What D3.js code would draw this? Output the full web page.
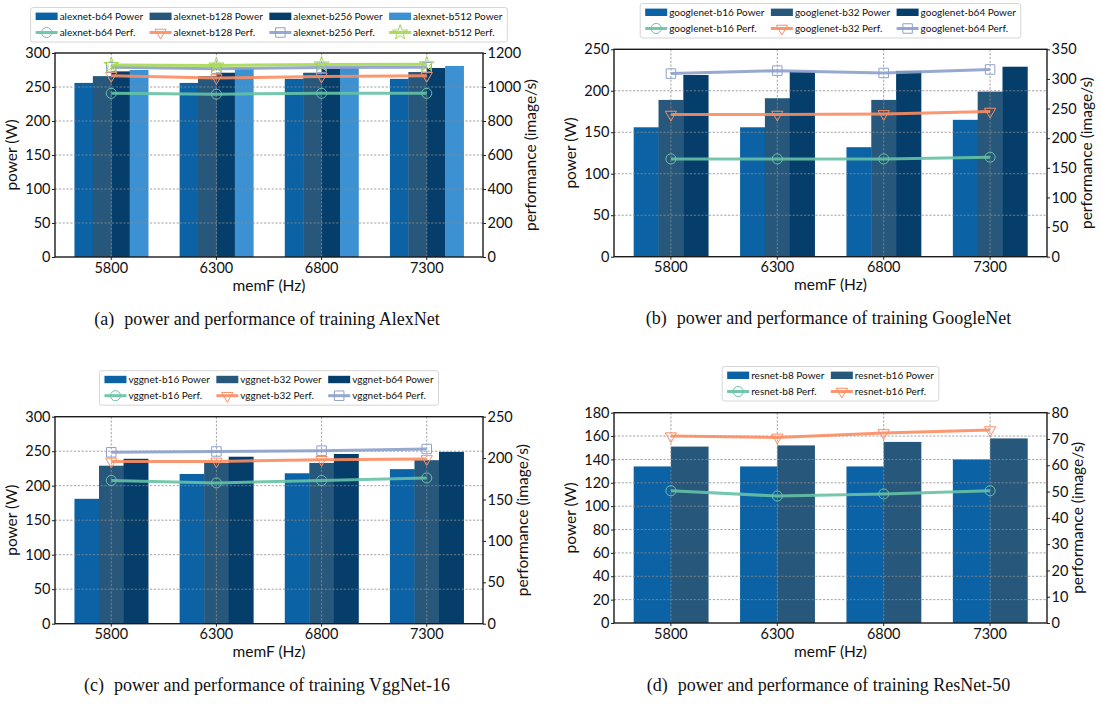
<!DOCTYPE html>
<html><head><meta charset="utf-8">
<script src="https://cdn.jsdelivr.net/npm/d3@7"></script>
<style>
body{margin:0;background:#fff;}
svg{display:block;}
text{font-family:Lato,"Open Sans",sans-serif;fill:#111;}
.cap{font-family:"Liberation Serif","DejaVu Serif",serif;}
</style></head><body>
<svg id="chart" width="1102" height="704"></svg>
<script>
// ---------- data ----------
const memF = ["5800", "6300", "6800", "7300"];

// (a) AlexNet
const alexnetNames = ["alexnet-b64", "alexnet-b128", "alexnet-b256", "alexnet-b512"];
const alexnetB64Power  = [256, 256, 262, 262];
const alexnetB128Power = [266, 266, 271, 272];
const alexnetB256Power = [273, 271, 277, 278];
const alexnetB512Power = [275, 278, 279, 281];
const alexnetB64Perf   = [963, 958, 963, 963];
const alexnetB128Perf  = [1066, 1053, 1062, 1066];
const alexnetB256Perf  = [1116, 1108, 1114, 1116];
const alexnetB512Perf  = [1130, 1127, 1133, 1134];

// (b) GoogleNet
const googlenetNames = ["googlenet-b16", "googlenet-b32", "googlenet-b64"];
const googlenetB16Power = [156, 156, 132, 165];
const googlenetB32Power = [189, 191, 189, 199];
const googlenetB64Power = [219, 223, 224, 229];
const googlenetB16Perf  = [165, 165, 165, 168];
const googlenetB32Perf  = [240, 240, 241, 245];
const googlenetB64Perf  = [309, 314, 310, 316];

// (c) VggNet-16
const vggnetNames = ["vggnet-b16", "vggnet-b32", "vggnet-b64"];
const vggnetB16Power = [181, 217, 218, 224];
const vggnetB32Power = [229, 233, 233, 237];
const vggnetB64Power = [239, 242, 246, 249];
const vggnetB16Perf  = [173, 170, 173, 176];
const vggnetB32Perf  = [196, 196, 198, 199];
const vggnetB64Perf  = [207, 208, 209, 211];

// (d) ResNet-50
const resnetNames = ["resnet-b8", "resnet-b16"];
const resnetB8Power  = [134, 134, 134, 140];
const resnetB16Power = [151, 152, 155, 158];
const resnetB8Perf   = [50.3, 48.3, 49.1, 50.3];
const resnetB16Perf  = [71.1, 70.6, 72.3, 73.4];

// tick settings [min, max, step]
const ticksA = {left: [0, 300, 50], right: [0, 1200, 200]};
const ticksB = {left: [0, 250, 50], right: [0, 350, 50]};
const ticksC = {left: [0, 300, 50], right: [0, 250, 50]};
const ticksD = {left: [0, 180, 20], right: [0, 80, 10]};

const captions = [
  ["(a)", "power and performance of training AlexNet"],
  ["(b)", "power and performance of training GoogleNet"],
  ["(c)", "power and performance of training VggNet-16"],
  ["(d)", "power and performance of training ResNet-50"]
];

// ---------- styles ----------
const barColors = ["#0b62a4", "#27587c", "#053d6b", "#3b91d1"];
const lineColors = ["#66c2a5", "#fc8d62", "#8da0cb", "#a6d854"];
const markerTypes = [
  {t: d3.symbolCircle, s: 80, r: 0},
  {t: d3.symbolTriangle, s: 55, r: 180},
  {t: d3.symbolSquare, s: 90, r: 0},
  {t: d3.symbolStar, s: 70, r: 0}
];

const svg = d3.select("#chart");

function marker(sel, idx, cx, cy) {
  const m = markerTypes[idx];
  sel.append("path")
    .attr("d", d3.symbol().type(m.t).size(m.s)())
    .attr("transform", `translate(${cx},${cy}) rotate(${m.r})`)
    .attr("fill", "none")
    .attr("stroke", lineColors[idx])
    .attr("stroke-width", 1);
}

function panel(p) {
  const g = svg.append("g");
  const x = d3.scaleBand().domain(memF).range([p.x0, p.x1]).paddingInner(0.3).paddingOuter(0.185);
  const xs = d3.scaleBand().domain(d3.range(p.power.length)).range([0, x.bandwidth()]);
  const yL = d3.scaleLinear().domain([p.ticks.left[0], p.ticks.left[1]]).range([p.y1, p.y0]);
  const yR = d3.scaleLinear().domain([p.ticks.right[0], p.ticks.right[1]]).range([p.y1, p.y0]);
  const cx = d => x(d) + x.bandwidth() / 2;

  // bars
  p.power.forEach((vals, si) => {
    g.append("g").selectAll("rect").data(vals).enter().append("rect")
      .attr("x", (d, i) => x(memF[i]) + xs(si))
      .attr("width", xs.bandwidth() + 0.4)
      .attr("y", d => yL(d))
      .attr("height", d => p.y1 - yL(d))
      .attr("fill", barColors[si]);
  });

  // grid
  const lt = d3.range(p.ticks.left[0], p.ticks.left[1] + 1e-9, p.ticks.left[2]);
  const grid = g.append("g").attr("stroke", "#8a8a8a").attr("stroke-width", 0.8)
    .attr("stroke-dasharray", "2.2,1.6");
  grid.selectAll("line.h").data(lt.slice(1, -1)).enter().append("line")
    .attr("x1", p.x0).attr("x2", p.x1).attr("y1", d => yL(d)).attr("y2", d => yL(d));
  grid.selectAll("line.v").data(memF).enter().append("line")
    .attr("x1", cx).attr("x2", cx).attr("y1", p.y0).attr("y2", p.y1);

  // lines
  const line = d3.line().x((d, i) => cx(memF[i])).y(d => yR(d));
  p.perf.forEach((vals, si) => {
    g.append("path").datum(vals).attr("d", line).attr("fill", "none")
      .attr("stroke", lineColors[si]).attr("stroke-width", 3).attr("opacity", 0.9)
      .attr("stroke-linejoin", "round");
    const mg = g.append("g");
    vals.forEach((v, i) => marker(mg, si, cx(memF[i]), yR(v)));
  });

  // axes
  const fs = "14.5px";
  const ax = g.append("g").attr("transform", `translate(0,${p.y1})`)
    .call(d3.axisBottom(x).tickSize(3).tickPadding(2.5));
  const al = g.append("g").attr("transform", `translate(${p.x0},0)`)
    .call(d3.axisLeft(yL).tickValues(lt).tickFormat(d3.format("d")).tickSize(3).tickPadding(1.5));
  const rt = d3.range(p.ticks.right[0], p.ticks.right[1] + 1e-9, p.ticks.right[2]);
  const ar = g.append("g").attr("transform", `translate(${p.x1},0)`)
    .call(d3.axisRight(yR).tickValues(rt).tickFormat(d3.format("d")).tickSize(3).tickPadding(1.5));
  [ax, al, ar].forEach(a => {
    a.selectAll("text").style("font-size", fs).attr("fill", "#111").style("font-family", "Lato, sans-serif");
    a.select(".domain").remove();
    a.selectAll(".tick line").attr("stroke", "#222").attr("stroke-width", 1);
  });
  // frame
  g.append("rect").attr("x", p.x0).attr("y", p.y0).attr("width", p.x1 - p.x0).attr("height", p.y1 - p.y0)
    .attr("fill", "none").attr("stroke", "#1a1a1a").attr("stroke-width", 1.4);

  // axis labels
  const bl = al.node().getBBox();
  const br = ar.node().getBBox();
  g.append("text").attr("transform", `translate(${p.x0 + bl.x - 8},${(p.y0 + p.y1) / 2}) rotate(-90)`)
    .attr("text-anchor", "middle").style("font-size", "15.5px").text("power (W)");
  g.append("text").attr("transform", `translate(${p.x1 + br.x + br.width + 15},${(p.y0 + p.y1) / 2}) rotate(-90)`)
    .attr("text-anchor", "middle").style("font-size", "15.5px").text("performance (image/s)");
  g.append("text").attr("x", (p.x0 + p.x1) / 2).attr("y", p.y1 + 33.5)
    .attr("text-anchor", "middle").style("font-size", "15.5px").text("memF (Hz)");

  // legend
  const n = p.names.length;
  const lg = g.append("g");
  const meas = svg.append("text").style("font-size", "10px");
  const colW = p.names.map(nm => {
    meas.text(nm + " Power"); const a = meas.node().getComputedTextLength();
    meas.text(nm + " Perf."); const b = meas.node().getComputedTextLength();
    return 24 + Math.max(a, b);
  });
  meas.remove();
  const gap = 6.5, pad = 5;
  const boxW = pad * 2 + d3.sum(colW) + gap * (n - 1);
  const bx = (p.x0 + p.x1) / 2 - boxW / 2;
  lg.append("rect").attr("x", bx).attr("y", p.legendTop).attr("width", boxW).attr("height", 34.5)
    .attr("rx", 2.5).attr("fill", "#fff").attr("stroke", "#d6d6d6").attr("stroke-width", 1);
  let cxl = bx + pad;
  const r1 = p.legendTop + 8.8, r2 = p.legendTop + 25;
  p.names.forEach((nm, j) => {
    lg.append("rect").attr("x", cxl).attr("y", r1 - 3.7).attr("width", 22).attr("height", 7.4).attr("fill", barColors[j]);
    lg.append("text").attr("x", cxl + 24).attr("y", r1 + 3.6).style("font-size", "10px").text(nm + " Power");
    lg.append("line").attr("x1", cxl).attr("x2", cxl + 22).attr("y1", r2).attr("y2", r2)
      .attr("stroke", lineColors[j]).attr("stroke-width", 3).attr("opacity", 0.9);
    marker(lg, j, cxl + 11, r2);
    lg.append("text").attr("x", cxl + 24).attr("y", r2 + 3.6).style("font-size", "10px").text(nm + " Perf.");
    cxl += colW[j] + gap;
  });

  // caption
  const ct = g.append("text").attr("class", "cap").attr("x", (p.x0 + p.x1) / 2 - 2).attr("y", p.y1 + 67.5)
    .attr("text-anchor", "middle").style("font-size", "18px");
  ct.append("tspan").text(p.caption[0]);
  ct.append("tspan").attr("dx", 10).text(p.caption[1]);
}

panel({x0: 55, x1: 483, y0: 53, y1: 257, ticks: ticksA, legendTop: 7.5,
  names: alexnetNames,
  power: [alexnetB64Power, alexnetB128Power, alexnetB256Power, alexnetB512Power],
  perf: [alexnetB64Perf, alexnetB128Perf, alexnetB256Perf, alexnetB512Perf],
  caption: captions[0]});
panel({x0: 614, x1: 1047, y0: 49.3, y1: 256.7, ticks: ticksB, legendTop: 3.5,
  names: googlenetNames,
  power: [googlenetB16Power, googlenetB32Power, googlenetB64Power],
  perf: [googlenetB16Perf, googlenetB32Perf, googlenetB64Perf],
  caption: captions[1]});
panel({x0: 55, x1: 483, y0: 416.7, y1: 623.7, ticks: ticksC, legendTop: 370.7,
  names: vggnetNames,
  power: [vggnetB16Power, vggnetB32Power, vggnetB64Power],
  perf: [vggnetB16Perf, vggnetB32Perf, vggnetB64Perf],
  caption: captions[2]});
panel({x0: 614, x1: 1047, y0: 412.7, y1: 623, ticks: ticksD, legendTop: 366.5,
  names: resnetNames,
  power: [resnetB8Power, resnetB16Power],
  perf: [resnetB8Perf, resnetB16Perf],
  caption: captions[3]});
</script>
</body></html>
